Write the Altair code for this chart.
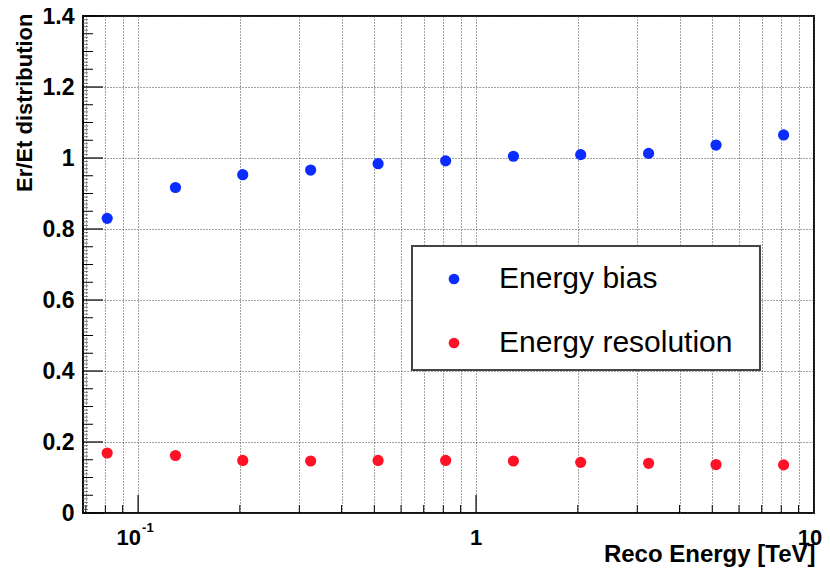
import altair as alt
import pandas as pd
import numpy as np

# ---- data ----
energy = [0.081, 0.129, 0.204, 0.324, 0.513, 0.813, 1.29, 2.04, 3.24, 5.13, 8.13]
bias = [0.830, 0.917, 0.953, 0.966, 0.984, 0.992, 1.005, 1.0095, 1.013, 1.0365, 1.065]
resolution = [0.169, 0.162, 0.148, 0.1465, 0.148, 0.148, 0.1465, 0.1427, 0.140, 0.1365, 0.1355]
series = ["Energy bias", "Energy resolution"]
colors = ["#0a2cff", "#ff1226"]

# axis tick positions
x_grid = [0.07, 0.08, 0.09, 0.1, 0.2, 0.3, 0.4, 0.5, 0.6, 0.7, 0.8, 0.9,
          1, 2, 3, 4, 5, 6, 7, 8, 9, 10]
x_major = [0.1, 1]
x_minor = [v for v in x_grid if v not in (0.1, 1, 10)]
y_labels = [0, 0.2, 0.4, 0.6, 0.8, 1.0, 1.2, 1.4]
y_all = np.round(np.arange(0, 1.4001, 0.01), 2)
y_mid = [v for v in y_all if abs(v * 20 - round(v * 20)) < 1e-6 and abs(v * 5 - round(v * 5)) > 1e-6]
y_min = [v for v in y_all if abs(v * 20 - round(v * 20)) > 1e-6]

W, H = 731, 497
FONT = "Liberation Sans"

df = pd.DataFrame({
    "E": energy * 2,
    "v": bias + resolution,
    "series": [series[0]] * len(energy) + [series[1]] * len(energy),
})

xscale = alt.Scale(type="log", domain=[0.0687, 10], nice=False)
yscale = alt.Scale(domain=[0, 1.4], nice=False)

xaxis = alt.Axis(
    values=x_grid, labels=False, ticks=False, domain=False, grid=True,
    gridColor="#444", gridDash=[1, 2], gridWidth=1,
    title="Reco Energy [TeV]", titleFont=FONT, titleFontSize=24,
    titleFontWeight="bold", titleColor="black",
    titleAnchor="end", titleAlign="right", titleBaseline="alphabetic",
    titleX=732, titleY=48)
yaxis = alt.Axis(
    values=y_labels, format="~g", ticks=False, tickSize=0, domain=False,
    grid=True, gridColor="#444", gridDash=[1, 2], gridWidth=1,
    labelFont=FONT, labelFontSize=23, labelFontWeight="bold",
    labelColor="black", labelPadding=9,
    title="Er/Et distribution", titleFont=FONT, titleFontSize=22,
    titleFontWeight="bold", titleColor="black",
    titleAngle=270, titleAlign="right", titleBaseline="middle",
    titleAnchor="end", titleX=-59, titleY=-3)

X = alt.X("E:Q", scale=xscale, axis=xaxis)
Y = alt.Y("v:Q", scale=yscale, axis=yaxis)

# legend frame (drawn behind the legend entries, above the grid)
frame = alt.Chart(pd.DataFrame({"k": [0]})).mark_rect(
    fill="white", stroke="#444", strokeWidth=2).encode(
    x=alt.value(329), x2=alt.value(677), y=alt.value(230), y2=alt.value(354))

points = alt.Chart(df).mark_circle(size=125, opacity=1).encode(
    x=X, y=Y,
    color=alt.Color("series:N", scale=alt.Scale(domain=series, range=colors),
                    legend=alt.Legend(
                        title=None, orient="none", legendX=329, legendY=230,
                        padding=18, rowPadding=34, symbolOffset=9,
                        labelOffset=30, labelLimit=500,
                        labelFont=FONT, labelFontSize=30, labelColor="black",
                        symbolType="circle", symbolSize=115,
                        symbolStrokeWidth=0)),
)

xmaj = alt.Chart(pd.DataFrame({"E": x_major})).mark_rule(color="black", strokeWidth=1.2).encode(
    x=X, y=alt.value(H), y2=alt.value(H - 18))
xmin = alt.Chart(pd.DataFrame({"E": x_minor})).mark_rule(color="black", strokeWidth=1).encode(
    x=X, y=alt.value(H), y2=alt.value(H - 8))

ymaj = alt.Chart(pd.DataFrame({"v": y_labels})).mark_rule(color="black", strokeWidth=1.2).encode(
    y=Y, x=alt.value(0), x2=alt.value(20))
ymid = alt.Chart(pd.DataFrame({"v": y_mid})).mark_rule(color="black", strokeWidth=1).encode(
    y=Y, x=alt.value(0), x2=alt.value(10))
ymin = alt.Chart(pd.DataFrame({"v": y_min})).mark_rule(color="#555", strokeWidth=0.8).encode(
    y=Y, x=alt.value(0), x2=alt.value(5))

# x tick labels (ROOT style: 10^-1, 1, 10)
one = alt.Chart(pd.DataFrame({"E": [1], "t": ["1"]})).mark_text(
    font=FONT, fontSize=22, fontWeight="bold", align="center",
    baseline="alphabetic", color="black").encode(
    x=X, y=alt.value(H + 32), text="t:N")
ten = alt.Chart(pd.DataFrame({"E": [10], "t": ["10"]})).mark_text(
    font=FONT, fontSize=22, fontWeight="bold", align="center", dx=-4,
    baseline="alphabetic", color="black").encode(
    x=X, y=alt.value(H + 32), text="t:N")
tenth = alt.Chart(pd.DataFrame({"E": [0.1], "t": ["10"]})).mark_text(
    font=FONT, fontSize=22, fontWeight="bold", align="right", dx=3,
    baseline="alphabetic", color="black").encode(
    x=X, y=alt.value(H + 32), text="t:N")
sup = alt.Chart(pd.DataFrame({"E": [0.1], "t": ["-1"]})).mark_text(
    font=FONT, fontSize=13, fontWeight="bold", align="left", dx=4,
    baseline="alphabetic", color="black").encode(
    x=X, y=alt.value(H + 19), text="t:N")

chart = alt.layer(xmin, xmaj, ymin, ymid, ymaj, frame, points, one, ten, tenth, sup).properties(
    width=W, height=H,
    autosize=alt.AutoSizeParams(type="none"),
    padding={"left": 75, "top": 8, "right": 8, "bottom": 56},
).configure(font=FONT).configure_view(stroke="#111", strokeWidth=2)

chart.save("out.html", embed_options={"renderer": "svg", "actions": False})
